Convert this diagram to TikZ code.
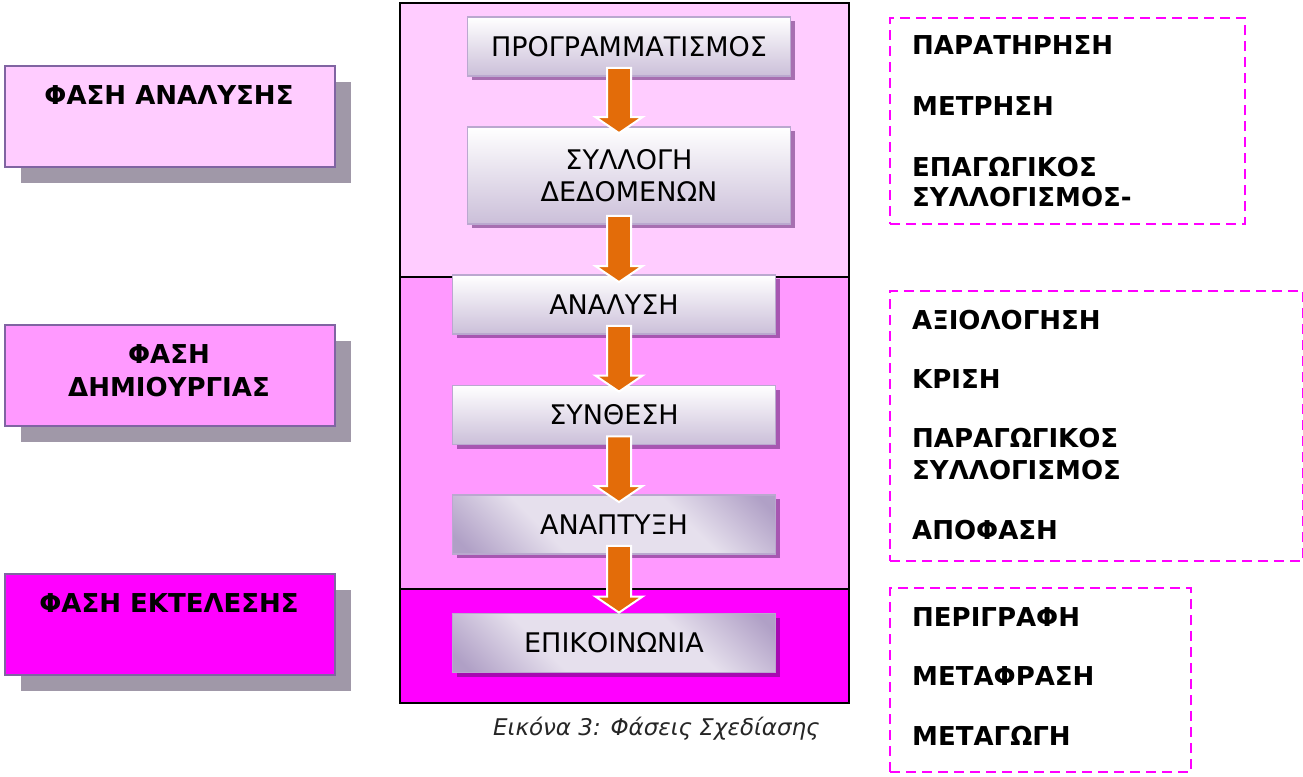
\documentclass[tikz,border=0pt]{standalone}
\usepackage{fontspec}
\setmainfont{DejaVu Sans}
\usetikzlibrary{calc,shadows}

\definecolor{paleA}{HTML}{FFCCFF}
\definecolor{paleB}{HTML}{FF99FF}
\definecolor{paleC}{HTML}{FF00FF}
\definecolor{phaseedge}{HTML}{8064A2}
\definecolor{phaseshade}{HTML}{A098A8}
\definecolor{stepedge}{HTML}{BAA8CF}
\definecolor{steplow}{HTML}{CBBFD9}
\definecolor{diagdark}{HTML}{B0A0C6}
\definecolor{diaglight}{HTML}{E6E0ED}
\definecolor{arrowfill}{HTML}{E36C09}
\definecolor{stepshadow}{RGB}{80,20,100}

% light band across the box, darker towards two opposite corners
\pgfdeclarehorizontalshading{stepdiag}{100bp}{color(0bp)=(diagdark); color(18bp)=(diagdark);
  color(36bp)=(diaglight); color(64bp)=(diaglight); color(82bp)=(diagdark); color(100bp)=(diagdark)}

\tikzset{
  panel/.style={draw=black, line width=2pt, anchor=north west, inner sep=0pt,
    minimum width=449pt},
  phasebox/.style={draw=phaseedge, line width=1.8pt, minimum width=330pt,
    minimum height=101pt, inner sep=0pt, anchor=north west,
    drop shadow={shadow xshift=16pt, shadow yshift=-16pt, fill=phaseshade, opacity=1}},
  phasetext/.style={anchor=base, inner sep=0pt, font=\fontsize{26}{33}\selectfont\bfseries},
  stepbox/.style={draw=stepedge, line width=1.8pt, minimum width=323pt,
    minimum height=59pt, inner sep=0pt, align=center,
    font=\fontsize{27}{32}\selectfont,
    drop shadow={shadow xshift=4pt, shadow yshift=-4pt, fill=stepshadow, opacity=0.5}},
  vshade/.style={top color=white, bottom color=steplow},
  dshade/.style={shading=stepdiag, shading angle=45},
  notebox/.style={draw=paleC, line width=2.2pt, dash pattern=on 10pt off 6pt,
    anchor=north west, inner sep=0pt},
  notetext/.style={anchor=base west, inner sep=0pt, font=\fontsize{26}{30}\selectfont\bfseries},
  fatarrow/.style={draw=white, line width=2pt, fill=arrowfill, line join=miter},
}

\begin{document}
\begin{tikzpicture}[x=1pt,y=-1pt]
  \useasboundingbox (0,0) rectangle (1303,776);
  \fill[white] (0,0) rectangle (1303,776);

  % central column: three stacked phase panels
  \node[panel, fill=paleA, minimum height=274pt] (p1) at (399,2) {};
  \node[panel, fill=paleB, minimum height=312pt] (p2) at (399,276) {};
  \node[panel, fill=paleC, minimum height=114pt] (p3) at (399,588) {};

  % process steps
  \node[stepbox, vshade] (b1) at (629,46.5) {ΠΡΟΓΡΑΜΜΑΤΙΣΜΟΣ};
  \node[stepbox, vshade, minimum height=97pt] (b2) at (629,175.5) {ΣΥΛΛΟΓΗ\\ΔΕΔΟΜΕΝΩΝ};
  \node[stepbox, vshade] (b3) at (614,304.5) {ΑΝΑΛΥΣΗ};
  \node[stepbox, vshade] (b4) at (614,415) {ΣΥΝΘΕΣΗ};
  \node[stepbox, dshade] (b5) at (614,524.5) {ΑΝΑΠΤΥΞΗ};
  \node[stepbox, dshade] (b6) at (614,643) {ΕΠΙΚΟΙΝΩΝΙΑ};

  % block arrows between consecutive steps
  \coordinate (ax) at (619,0);
  \foreach \a/\b/\o in {b1/b2/7, b2/b3/8, b3/b4/7, b4/b5/8, b5/b6/0} {
    \draw[fatarrow] let \p1=($(\a.south -| ax)+(0,-9)$),
                        \p2=($(\b.north -| ax)+(0,\o)$) in
      ({\x1-12pt},\y1) -- ({\x1+12pt},\y1) -- ({\x1+12pt},{\y2+16pt})
      -- ({\x1+23.5pt},{\y2+16pt}) -- (\x1,\y2) -- ({\x1-23.5pt},{\y2+16pt})
      -- ({\x1-12pt},{\y2+16pt}) -- cycle;
  }

  % phase labels on the left
  \node[phasebox, fill=paleA] (f1) at (4,65) {};
  \node[phasebox, fill=paleB] (f2) at (4,324) {};
  \node[phasebox, fill=paleC] (f3) at (4,573) {};
  \node[phasetext] (f1t) at (169,104) {ΦΑΣΗ ΑΝΑΛΥΣΗΣ};
  \node[phasetext] (f2t) at (169,363) {ΦΑΣΗ};
  \node[phasetext] (f2u) at (169,396) {ΔΗΜΙΟΥΡΓΙΑΣ};
  \node[phasetext] (f3t) at (169,612) {ΦΑΣΗ ΕΚΤΕΛΕΣΗΣ};

  % activities of each phase on the right
  \node[notebox, minimum width=355pt, minimum height=206pt] (n1) at (889,17) {};
  \node[notebox, minimum width=413pt, minimum height=270pt] (n2) at (889,290) {};
  \node[notebox, minimum width=301pt, minimum height=184pt] (n3) at (889,587) {};

  \node[notetext] (n1a) at (912,55)  {ΠΑΡΑΤΗΡΗΣΗ};
  \node[notetext] (n1b) at (912,115) {ΜΕΤΡΗΣΗ};
  \node[notetext] (n1c) at (912,176) {ΕΠΑΓΩΓΙΚΟΣ};
  \node[notetext] (n1d) at (912,206) {ΣΥΛΛΟΓΙΣΜΟΣ-};

  \node[notetext] (n2a) at (912,329) {ΑΞΙΟΛΟΓΗΣΗ};
  \node[notetext] (n2b) at (912,388) {ΚΡΙΣΗ};
  \node[notetext] (n2c) at (912,447) {ΠΑΡΑΓΩΓΙΚΟΣ};
  \node[notetext] (n2d) at (912,479) {ΣΥΛΛΟΓΙΣΜΟΣ};
  \node[notetext] (n2e) at (912,539) {ΑΠΟΦΑΣΗ};

  \node[notetext] (n3a) at (912,626) {ΠΕΡΙΓΡΑΦΗ};
  \node[notetext] (n3b) at (912,685) {ΜΕΤΑΦΡΑΣΗ};
  \node[notetext] (n3c) at (912,745) {ΜΕΤΑΓΩΓΗ};

  % caption
  \node[anchor=base west, inner sep=0pt, text=black!85,
        font=\fontsize{23}{28}\selectfont\itshape] (cap) at (493,735)
        {Εικόνα 3: Φάσεις Σχεδίασης};
\end{tikzpicture}
\end{document}
